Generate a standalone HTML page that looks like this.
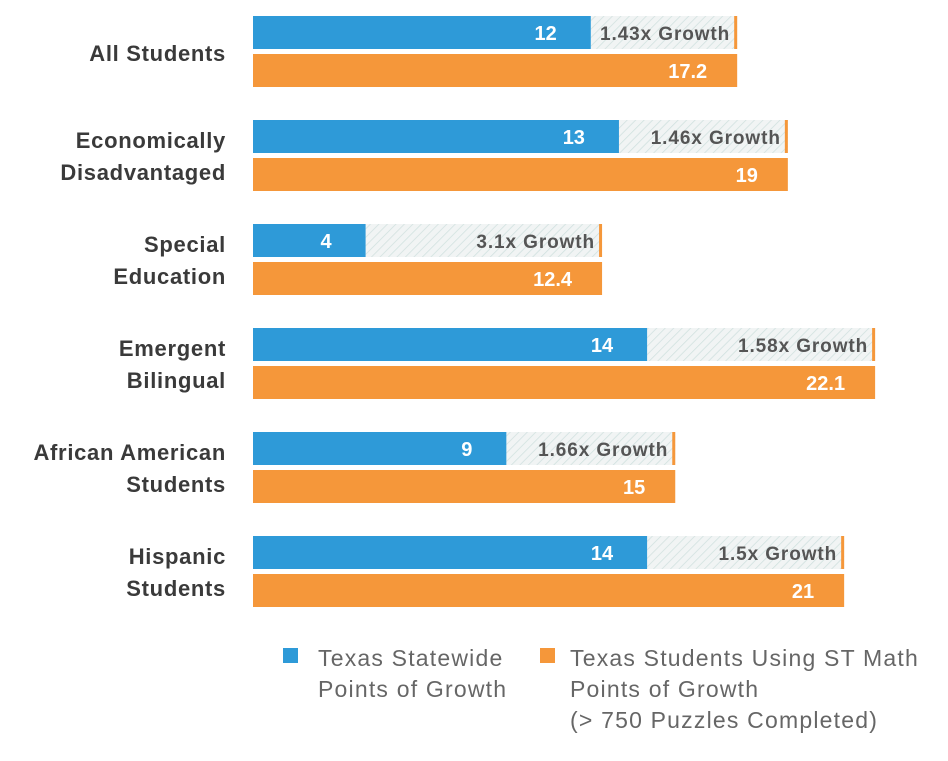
<!DOCTYPE html>
<html><head><meta charset="utf-8"><style>
body{margin:0;background:#fff;width:948px;height:756px;overflow:hidden;font-family:"Liberation Sans",sans-serif}
svg text{font-family:"Liberation Sans",sans-serif}
</style></head><body>
<svg width="948" height="756">
<defs><pattern id="hatch" width="6" height="6" patternUnits="userSpaceOnUse" patternTransform="rotate(45)">
<rect width="6" height="6" fill="#f1f4f4"/><line x1="0" y1="0" x2="0" y2="6" stroke="#cfe0de" stroke-width="1.5"/></pattern></defs>
<g id="bars"></g>
<rect x="283" y="648" width="15" height="15" fill="#2e9ad8"/>
<text x="318" y="666" font-size="23" letter-spacing="1.2" fill="#666"><tspan x="318">Texas Statewide</tspan><tspan x="318" dy="31">Points of Growth</tspan></text>
<rect x="540" y="648" width="15" height="15" fill="#f5973a"/>
<text x="570" y="666" font-size="23" letter-spacing="1.2" fill="#666"><tspan x="570">Texas Students Using ST Math</tspan><tspan x="570" dy="31">Points of Growth</tspan><tspan x="570" dy="31">(&gt; 750 Puzzles Completed)</tspan></text>
</svg>
<script>
const categories=[["All Students"],["Economically","Disadvantaged"],["Special","Education"],["Emergent","Bilingual"],["African American","Students"],["Hispanic","Students"]];
const statewide=[12,13,4,14,9,14];
const stmath=[17.2,19,12.4,22.1,15,21];
const growthLabels=["1.43x Growth","1.46x Growth","3.1x Growth","1.58x Growth","1.66x Growth","1.5x Growth"];
const x0=253,scale=28.15,top0=16,pitch=104,bh=33;
const xs=v=>x0+v*scale;
const g=document.getElementById('bars');
const NS="http://www.w3.org/2000/svg";
function mk(t,a,txt){const e=document.createElementNS(NS,t);for(const k in a)e.setAttribute(k,a[k]);if(txt!=null)e.textContent=txt;g.appendChild(e);return e;}
categories.forEach((c,i)=>{
 const y=top0+i*pitch;
 const b=xs(statewide[i]),o=xs(stmath[i]);
 let h=mk('rect',{x:b,y:y,width:o-b,height:bh,fill:'url(#hatch)'});
 
 
 let l=mk('rect',{x:o-3,y:y,width:3,height:bh,fill:'#f5973a'});
 
 
 let r1=mk('rect',{x:x0,y:y,width:b-x0,height:bh,fill:'#2e9ad8'});
 
 
 let r2=mk('rect',{x:x0,y:y+38,width:o-x0,height:bh,fill:'#f5973a'});
 
 
 let t1=mk('text',{x:b-34,y:y+24,'text-anchor':'end','font-size':20,'font-weight':'bold',fill:'#fff'},statewide[i]);
 
 
 let t2=mk('text',{x:o-30,y:y+62,'text-anchor':'end','font-size':20,'font-weight':'bold',fill:'#fff'},stmath[i]);
 
 
 let t3=mk('text',{x:o-7,y:y+24,'text-anchor':'end','font-size':19,'letter-spacing':0.9,'font-weight':'bold',fill:'#555'},growthLabels[i]);
 
 
 const cy=c.length==1?y+45:y+28;
 c.forEach((s,j)=>{
  let ct=mk('text',{x:226,y:cy+j*32,'text-anchor':'end','font-size':22,'letter-spacing':0.7,'font-weight':'bold',fill:'#3a3a3a'},s);
  
  
 });
});
</script>
</body></html>
